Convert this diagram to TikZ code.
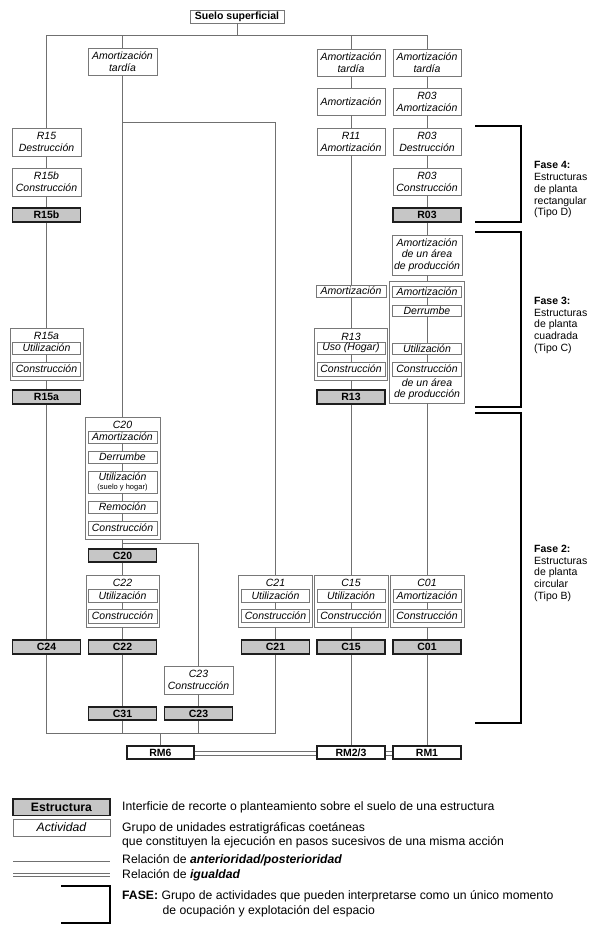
\documentclass[tikz,border=0pt]{standalone}
\usepackage{fontspec}
\setmainfont{Liberation Sans}
\definecolor{linegray}{RGB}{112,112,112}
\definecolor{boxgray}{RGB}{120,120,120}
\definecolor{stfill}{RGB}{198,198,198}
\definecolor{stborder}{RGB}{30,30,30}
\newcommand\mkbox[7]{\node[#1, minimum width=#6pt, minimum height={(#5-#4)*1pt}] (#2) at (#3,{(#4+#5)/2}) {#7};}
\begin{document}
\begin{tikzpicture}[x=1pt,y=-1pt,
  ln/.style={draw=linegray, line width=0.9pt},
  act/.style={draw=boxgray, line width=0.8pt, fill=white, inner sep=0pt, align=center, font=\fontsize{10.5}{12}\selectfont\itshape},
  grp/.style={draw=boxgray, line width=0.8pt, fill=white, inner sep=0pt},
  st/.style={draw=stborder, line width=1.2pt, fill=stfill, inner sep=0pt, font=\fontsize{10.5}{12}\selectfont\bfseries},
  rm/.style={draw=stborder, line width=1.2pt, fill=white, inner sep=0pt, font=\fontsize{10.5}{12}\selectfont\bfseries},
  ttl/.style={inner sep=0pt, font=\fontsize{10.5}{12}\selectfont\itshape},
  brk/.style={draw=black, line width=1.5pt},
  fase/.style={inner sep=0pt, align=left, anchor=north west, font=\fontsize{10.5}{11.7}\selectfont},
  dbl/.style={draw=linegray, double=white, double distance=2.6pt, line width=0.8pt},
  lgt/.style={inner sep=0pt, anchor=west, font=\fontsize{12.2}{14}\selectfont}
]
\fill[white] (0,0) rectangle (600,940);
\useasboundingbox (0,0) rectangle (600,940);

% top
\mkbox{act,font=\fontsize{10.5}{12}\selectfont\bfseries}{suelo}{237}{10}{23}{94}{Suelo superficial}

% column 1
\mkbox{act}{r15d}{46.5}{128}{156}{69}{R15\\Destrucción}
\mkbox{act}{r15bc}{46.5}{168}{196}{69}{R15b\\Construcción}
\mkbox{st}{r15b}{46.5}{208}{222}{68}{R15b}
\mkbox{grp}{r15ag}{46.5}{328}{380}{73}{}
\node[ttl] (r15at) at (46.5,336) {R15a};
\mkbox{act}{r15au}{46.5}{342}{354}{68}{Utilización}
\mkbox{act}{r15ac}{46.5}{362}{376}{68}{Construcción}
\mkbox{st}{r15as}{46.5}{390}{404}{68}{R15a}
\mkbox{st}{c24}{46.5}{640}{654}{68}{C24}

% column 2
\mkbox{act}{amt2}{122.5}{48}{75}{69}{Amortización\\tardía}
\mkbox{grp}{c20g}{122.5}{417}{539}{75}{}
\node[ttl] (c20t) at (122.5,425) {C20};
\mkbox{act}{c20a}{122.5}{431}{443}{69}{Amortización}
\mkbox{act}{c20d}{122.5}{451}{463}{69}{Derrumbe}
\mkbox{act}{c20u}{122.5}{471}{493}{69}{Utilización\\[-2.5pt]{\fontsize{7.5}{8}\selectfont\upshape (suelo y hogar)}}
\mkbox{act}{c20r}{122.5}{501}{513}{69}{Remoción}
\mkbox{act}{c20c}{122.5}{521}{535}{69}{Construcción}
\mkbox{st}{c20s}{122.5}{549}{562}{68}{C20}
\mkbox{grp}{c22g}{122.5}{575}{627}{73}{}
\node[ttl] (c22t) at (122.5,583) {C22};
\mkbox{act}{c22u}{122.5}{589}{602}{69}{Utilización}
\mkbox{act}{c22c}{122.5}{609}{623}{69}{Construcción}
\mkbox{st}{c22s}{122.5}{640}{654}{68}{C22}
\mkbox{st}{c31}{122.5}{707}{720}{68}{C31}

% C23 column
\mkbox{act}{c23}{198.5}{666}{694}{69}{C23\\Construcción}
\mkbox{st}{c23s}{198.5}{707}{720}{68}{C23}

% column 3
\mkbox{grp}{c21g}{275.5}{575}{627}{74}{}
\node[ttl] (c21t) at (275.5,583) {C21};
\mkbox{act}{c21u}{275.5}{589}{602}{68}{Utilización}
\mkbox{act}{c21c}{275.5}{609}{622}{68}{Construcción}
\mkbox{st}{c21s}{275.5}{640}{654}{68}{C21}

% column 4
\mkbox{act}{amt4}{351}{49}{76}{68}{Amortización\\tardía}
\mkbox{act}{am4}{351}{88}{115}{68}{Amortización}
\mkbox{act}{r11}{351}{128}{155}{68}{R11\\Amortización}
\mkbox{act}{am4b}{351}{285}{297}{70}{Amortización}
\mkbox{grp}{r13g}{351}{328}{380}{73}{}
\node[ttl] (r13t) at (351,336.5) {R13};
\mkbox{act}{r13u}{351}{342}{354}{68}{Uso (Hogar)}
\mkbox{act}{r13c}{351}{362}{376}{68}{Construcción}
\mkbox{st}{r13s}{351}{390}{404}{68}{R13}
\mkbox{grp}{c15g}{351}{575}{627}{74}{}
\node[ttl] (c15t) at (351,583) {C15};
\mkbox{act}{c15u}{351}{589}{602}{68}{Utilización}
\mkbox{act}{c15c}{351}{609}{622}{68}{Construcción}
\mkbox{st}{c15s}{351}{640}{654}{68}{C15}
\mkbox{rm}{rm23}{351}{746}{759}{68}{RM2/3}

% column 5
\mkbox{act}{amt5}{427}{49}{76}{68}{Amortización\\tardía}
\mkbox{act}{r03a}{427}{88}{115}{68}{R03\\Amortización}
\mkbox{act}{r03d}{427}{128}{155}{68}{R03\\Destrucción}
\mkbox{act}{r03c}{427}{168}{195}{68}{R03\\Construcción}
\mkbox{st}{r03s}{427}{208}{222}{68}{R03}
\mkbox{act,font=\fontsize{10.5}{11.5}\selectfont\itshape}{aup}{427}{235}{275}{70}{Amortización\\de un área\\de producción}
\mkbox{grp}{g5}{427}{281}{403}{75}{}
\mkbox{act}{g5a}{427}{286}{297}{69}{Amortización}
\mkbox{act}{g5d}{427}{305}{316}{69}{Derrumbe}
\mkbox{act}{g5u}{427}{343}{354}{69}{Utilización}
\mkbox{act}{g5c}{427}{362}{376}{69}{Construcción}
\node[ttl, align=center, font=\fontsize{10.5}{11}\selectfont\itshape] (g5t) at (427,389) {de un área\\de producción};
\mkbox{grp}{c01g}{427}{575}{627}{74}{}
\node[ttl] (c01t) at (427,583) {C01};
\mkbox{act}{c01a}{427}{589}{602}{68}{Amortización}
\mkbox{act}{c01c}{427}{609}{622}{68}{Construcción}
\mkbox{st}{c01s}{427}{640}{654}{68}{C01}
\mkbox{rm}{rm1}{427}{746}{759}{68}{RM1}

\mkbox{rm}{rm6}{160.5}{746}{759}{67}{RM6}

% connectors
\coordinate (tl) at (46.5,35);
\coordinate (tr) at (427,35);
\draw[ln] (suelo.south) -- (suelo.south |- tl);
\draw[ln] (r15d.north) -- (tl) -- (tr) -- (amt5.north);
\draw[ln] (amt2.north) -- (amt2.north |- tl);
\draw[ln] (amt4.north) -- (amt4.north |- tl);

\coordinate (b1) at (122.5,122);
\draw[ln] (b1) -| (c21g.north);
\coordinate (b2) at (122.5,543);
\draw[ln] (b2) -| (c23.north);

\foreach \a/\b in {r15d/r15bc, r15bc/r15b, r15b/r15ag, r15au/r15ac, r15ag/r15as, r15as/c24,
  amt2/c20g, c20a/c20d, c20d/c20u, c20u/c20r, c20r/c20c, c20g/c20s, c20s/c22g, c22u/c22c, c22g/c22s, c22s/c31,
  c23/c23s, c21u/c21c, c21g/c21s,
  amt4/am4, am4/r11, r11/am4b, am4b/r13g, r13u/r13c, r13g/r13s, r13s/c15g, c15u/c15c, c15g/c15s, c15s/rm23,
  amt5/r03a, r03a/r03d, r03d/r03c, r03c/r03s, r03s/aup, aup/g5, g5a/g5d, g5d/g5u, g5u/g5c, g5/c01g, c01a/c01c, c01g/c01s, c01s/rm1}
  \draw[ln] (\a.south) -- (\b.north);

\coordinate (bl) at (46.5,733);
\coordinate (br) at (275.5,733);
\draw[ln] (c24.south) -- (bl) -- (br) -- (c21s.south);
\draw[ln] (c31.south) -- (c31.south |- bl);
\draw[ln] (c23s.south) -- (c23s.south |- bl);
\draw[ln] (rm6.north) -- (rm6.north |- bl);

\draw[dbl] ([yshift=-1pt]rm6.east) -- ([yshift=-1pt]rm23.west);
\draw[dbl] ([yshift=-1pt]rm23.east) -- ([yshift=-1pt]rm1.west);

% phase brackets
\draw[brk] (475,126) -- (521,126) -- (521,222) -- (475,222);
\draw[brk] (475,232) -- (521,232) -- (521,407) -- (475,407);
\draw[brk] (475,413) -- (521,413) -- (521,723) -- (475,723);
\node[fase] (f4) at (534,161.5) {\textbf{Fase 4:}\\Estructuras\\de planta\\rectangular\\(Tipo D)};
\node[fase] (f3) at (534,297) {\textbf{Fase 3:}\\Estructuras\\de planta\\cuadrada\\(Tipo C)};
\node[fase] (f2) at (534,545) {\textbf{Fase 2:}\\Estructuras\\de planta\\circular\\(Tipo B)};

% legend
\mkbox{st,font=\fontsize{12.2}{14}\selectfont\bfseries}{lgs}{61.5}{799}{815.5}{97}{Estructura}
\mkbox{act,font=\fontsize{12.2}{14}\selectfont\itshape}{lga}{61.5}{819}{836}{97}{Actividad}
\node[lgt] (lt1) at (122,807) {Interficie de recorte o planteamiento sobre el suelo de una estructura};
\node[lgt] (lt2) at (122,828) {Grupo de unidades estratigráficas coetáneas};
\node[lgt] (lt3) at (122,842) {que constituyen la ejecución en pasos sucesivos de una misma acción};
\coordinate (l1a) at (13,861);
\coordinate (l1b) at (110,861);
\draw[ln] (l1a) -- (l1b);
\node[lgt] (lt4) at (122,860.5) {Relación de \textbf{\textit{anterioridad/posterioridad}}};
\coordinate (l2a) at (13,875);
\coordinate (l2b) at (110,875);
\draw[dbl] (l2a) -- (l2b);
\node[lgt] (lt5) at (122,875) {Relación de \textbf{\textit{igualdad}}};
\coordinate (k1) at (61,886);
\coordinate (k2) at (110,886);
\coordinate (k3) at (110,923);
\coordinate (k4) at (61,923);
\draw[brk] (k1) -- (k2) -- (k3) -- (k4);
\node[lgt] (lt6) at (122,896.5) {\textbf{FASE:} Grupo de actividades que pueden interpretarse como un único momento};
\node[lgt] (lt7) at (162.5,911) {de ocupación y explotación del espacio};
\end{tikzpicture}
\end{document}
